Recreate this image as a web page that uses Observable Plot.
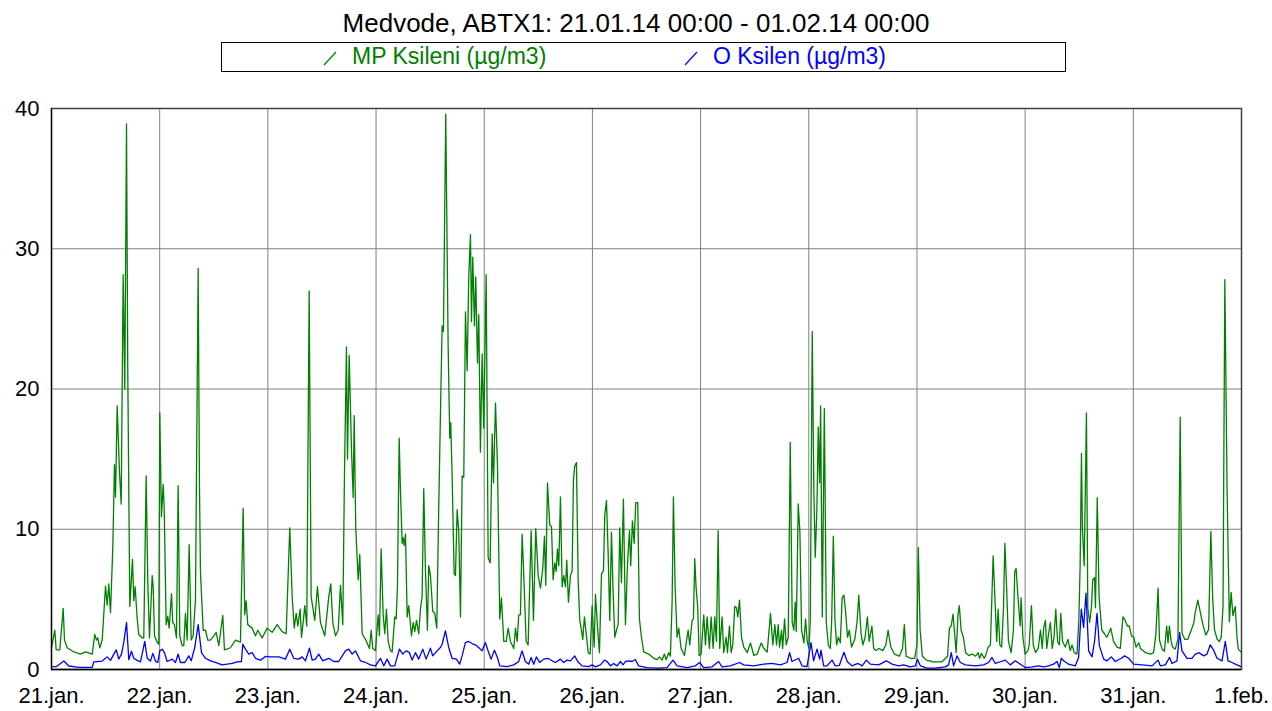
<!DOCTYPE html>
<html>
<head>
<meta charset="utf-8">
<script src="https://cdn.jsdelivr.net/npm/d3@7"></script>
<script src="https://cdn.jsdelivr.net/npm/@observablehq/plot@0.6"></script>
<style>
  html, body { margin: 0; padding: 0; background: #fff; }
  body { width: 1272px; height: 711px; overflow: hidden; font-family: "Liberation Sans", Arial, sans-serif; }
  #head { position: relative; height: 78px; }
  #title { position: absolute; top: 10px; left: 0; width: 1272px; text-align: center; font-size: 26px; line-height: 1; color: #000; white-space: nowrap; }
  #legend { position: absolute; left: 221px; top: 42px; width: 843px; height: 28px; border: 1px solid #000; background: #fff; }
  .item { position: absolute; top: 2px; font-size: 23px; line-height: 1; white-space: nowrap; }
  .sym { position: absolute; top: 8px; }
</style>
</head>
<body>
<div id="head">
  <div id="title"></div>
  <div id="legend"></div>
</div>
<div id="chart"></div>
<script>
// ---- data (hours since 21.01.14 00:00, µg/m3) ----
const titleText = "Medvode, ABTX1: 21.01.14 00:00 - 01.02.14 00:00";
const seriesNames = ["MP Ksileni (µg/m3)", "O Ksilen (µg/m3)"];
const seriesColors = ["#008000", "#0000ff"];
const dayLabels = ["21.jan.", "22.jan.", "23.jan.", "24.jan.", "25.jan.", "26.jan.", "27.jan.", "28.jan.", "29.jan.", "30.jan.", "31.jan.", "1.feb."];
const yTicks = [0, 10, 20, 30, 40];

const mpKsileni = [
[0,1.55],[0.73,2.8],[1.04,1.4],[1.84,1.4],[2.6,4.35],[2.88,2.1],[3.48,1.55],[4.95,1.25],[6.43,1.1],[7.54,1.25],[9.03,1.1],[9.6,2.5],[9.98,2.1],[10.27,2.25],[10.71,1.55],[11.25,2.1],[11.98,5.95],[12.35,4.6],[12.71,6.1],[13.09,4.05],[13.6,8.7],[13.97,14.6],[14.2,12.3],[14.57,18.8],[15.08,14.1],[15.46,11.8],[15.9,28.15],[16.26,20.0],[16.64,38.9],[16.92,21.3],[17.37,4.5],[17.97,7.85],[18.25,4.9],[18.56,5.9],[19.0,3.65],[19.36,2.5],[20.12,2.25],[20.47,2.25],[21.0,13.8],[21.36,6.2],[21.74,2.25],[22.34,6.7],[22.56,5.9],[22.85,2.4],[23.45,1.95],[23.8,1.8],
[24.02,18.3],[24.4,10.9],[24.78,13.2],[25.0,11.5],[25.44,3.2],[25.8,3.8],[26.1,2.95],[26.62,5.4],[26.9,3.35],[27.28,3.2],[27.73,2.25],[28.1,13.1],[28.46,2.4],[28.99,1.7],[29.35,1.7],[29.72,4.0],[30.1,2.1],[30.54,8.9],[30.99,2.1],[31.43,2.4],[31.94,5.0],[32.54,28.6],[32.83,12.9],[33.05,6.9],[33.65,2.8],[34.16,2.8],[34.67,2.1],[35.27,2.1],[36.0,2.4],[36.53,2.65],[37.11,1.7],[38.0,3.85],[38.37,1.4],[39.7,1.55],[40.81,2.1],[41.92,1.95],[42.52,11.5],[42.87,3.9],[43.18,4.9],[43.54,3.2],[44.51,2.95],[45.25,2.4],[45.76,2.8],[46.73,2.25],[47.84,2.95],
[48.95,2.65],[50.06,3.2],[51.17,2.7],[52.06,2.55],[52.86,10.1],[53.39,5.2],[53.84,2.95],[54.28,4.0],[54.64,3.1],[55.17,4.3],[55.46,2.3],[55.83,3.35],[56.19,4.55],[56.63,3.1],[57.16,27.0],[57.6,5.2],[58.4,3.5],[59.0,5.9],[59.67,3.35],[60.62,2.4],[61.51,5.2],[61.96,6.1],[62.4,3.35],[63.0,2.4],[63.6,2.8],[64.11,6.0],[64.62,3.2],[65.0,14.1],[65.44,23.0],[65.66,15.0],[66.04,22.4],[66.55,15.7],[66.93,12.25],[67.15,18.1],[67.5,10.05],[68.04,6.4],[68.39,8.2],[68.92,2.55],[69.66,2.15],[70.54,1.5],[70.92,2.8],[71.27,1.5],[71.87,1.35],
[72.47,3.9],[72.76,2.4],[73.13,8.6],[73.58,3.9],[73.93,2.55],[74.31,4.3],[74.69,2.0],[75.2,1.35],[75.57,1.25],[76.15,3.75],[76.46,3.6],[76.75,5.9],[77.13,16.5],[77.42,12.7],[77.79,9.0],[78.01,9.4],[78.24,8.85],[78.53,9.65],[78.91,3.75],[79.26,4.55],[79.86,2.4],[80.24,3.35],[80.59,2.7],[80.97,3.5],[81.47,2.55],[81.85,4.3],[82.22,5.2],[82.58,12.9],[82.96,7.1],[83.4,2.8],[83.69,7.4],[84.07,6.7],[84.58,4.15],[85.02,4.0],[85.47,2.95],[85.9,11.4],[86.28,18.1],[86.66,24.5],[86.95,24.1],[87.46,39.6],[87.99,23.2],[88.35,16.5],[88.57,17.6],[88.88,13.8],[89.33,6.8],[89.62,6.7],[89.99,11.4],[90.35,9.8],[90.73,3.75],[91.1,13.8],[91.46,13.7],[91.84,25.5],[92.21,21.3],[92.57,28.0],[92.95,31.0],[93.17,24.8],[93.46,29.4],[93.83,24.5],[94.12,28.0],[94.5,21.85],[94.79,25.3],[95.16,15.5],[95.54,22.5],[95.9,17.2],
[96.43,28.15],[96.87,8.0],[97.32,7.6],[97.76,16.8],[98.05,13.3],[98.5,19.0],[98.94,14.5],[99.45,3.6],[99.82,5.1],[100.34,2.0],[100.87,2.0],[101.31,2.95],[101.82,2.0],[102.56,1.5],[102.93,2.95],[103.31,2.0],[103.66,3.9],[104.03,3.9],[104.41,9.65],[104.76,6.8],[105.3,2.0],[105.74,1.75],[106.41,9.9],[106.92,3.5],[107.43,10.05],[107.97,6.7],[108.48,5.8],[108.99,7.2],[109.36,9.5],[109.65,6.0],[110.03,13.3],[110.54,10.3],[110.92,10.2],[111.29,6.4],[111.65,7.6],[111.96,7.0],[112.25,8.6],[112.54,7.4],[112.91,12.3],[113.29,5.9],[113.64,6.7],[114.02,5.9],[114.31,7.8],[114.68,4.8],[115.13,6.7],[115.5,7.0],[115.79,13.5],[116.08,14.5],[116.46,14.75],[116.84,6.4],[117.19,3.5],[117.57,2.8],[117.86,2.15],[118.23,3.75],[118.68,2.4],[119.06,1.2],[119.5,1.1],[119.94,4.55],
[120.39,1.6],[120.68,5.35],[121.12,3.1],[121.56,1.2],[122.01,6.8],[122.45,7.05],[122.74,11.0],[123.12,12.05],[123.5,8.2],[123.85,3.5],[124.23,9.8],[124.6,5.5],[124.96,2.3],[125.33,2.8],[125.71,3.2],[126.06,10.1],[126.44,6.2],[126.88,12.15],[127.33,3.2],[127.77,7.4],[128.22,9.9],[128.5,7.4],[128.88,10.6],[129.26,9.0],[129.61,11.9],[130.06,11.9],[130.43,3.6],[130.88,2.3],[131.38,1.25],[132.49,1.1],[133.6,0.8],[134.35,0.7],[134.86,0.9],[135.46,0.67],[135.97,1.1],[136.35,0.7],[136.93,1.2],[137.3,0.95],[137.68,4.8],[137.97,12.3],[138.35,5.9],[138.79,2.3],[139.15,2.95],[139.68,1.5],[140.42,1.0],[140.86,2.0],[141.24,2.8],[141.59,1.75],[142.12,3.5],[142.41,3.6],[142.7,7.9],[143.01,5.8],[143.37,4.4],[143.68,1.0],
[144.12,1.1],[144.7,3.9],[145.08,1.75],[145.45,3.75],[145.96,1.5],[146.34,3.75],[146.78,1.5],[147.14,3.75],[147.52,2.0],[147.89,9.9],[148.24,1.5],[148.78,3.75],[149.13,1.2],[149.67,2.3],[149.96,1.2],[150.4,3.1],[150.78,1.2],[151.14,1.75],[151.58,4.5],[151.96,4.4],[152.25,3.75],[152.63,4.95],[153.07,2.3],[153.58,1.6],[154.34,1.2],[155.07,1.9],[155.81,1.0],[156.56,1.1],[157.45,1.9],[158.03,1.5],[158.78,1.25],[159.51,4.0],[160.02,1.75],[160.47,3.2],[160.85,1.75],[161.22,3.2],[161.51,1.6],[161.96,2.8],[162.2,1.5],[162.63,3.6],[163.0,1.75],[163.45,2.3],[163.89,16.2],[164.33,3.35],[164.69,2.8],[165.0,4.8],[165.22,2.7],[165.66,11.8],[166.03,9.8],[166.4,2.8],[166.91,1.9],[167.29,3.6],[167.66,2.0],
[168.02,1.5],[168.33,3.35],[168.77,24.1],[169.13,12.7],[169.44,8.0],[169.8,11.4],[170.11,17.3],[170.4,13.3],[170.63,18.8],[171.0,3.75],[171.45,18.6],[171.89,3.35],[172.34,1.75],[172.78,1.5],[173.07,3.35],[173.45,9.5],[173.8,3.6],[174.18,1.75],[174.56,2.3],[175.0,1.9],[175.4,5.1],[175.8,5.3],[176.2,4.0],[176.6,2.3],[177.0,2.8],[177.5,1.6],[178.2,2.15],[178.7,3.35],[179.1,5.3],[179.6,2.55],[180.0,1.75],[180.5,2.3],[181.0,3.75],[181.4,2.0],[182.0,3.1],[182.4,1.5],[182.9,1.35],[183.6,1.5],[184.4,1.35],[185.1,1.75],[185.6,2.8],[186.2,1.6],[187.0,1.1],[188.1,0.95],[188.8,1.5],[189.2,3.2],[189.6,0.95],[190.5,0.8],[191.5,0.8],
[192.0,1.75],[192.3,8.7],[192.7,2.8],[193.2,0.95],[194.1,0.67],[195.6,0.54],[197.5,0.54],[198.8,0.95],[199.2,2.95],[199.6,3.1],[200.0,3.95],[200.3,2.8],[200.7,1.2],[201.1,3.9],[201.4,4.55],[201.8,2.8],[202.3,2.3],[202.8,1.2],[203.5,1.0],[204.3,1.1],[205.0,0.95],[205.6,1.2],[205.9,0.8],[206.3,1.15],[206.9,0.8],[207.2,0.95],[207.8,1.6],[208.3,1.75],[208.9,8.1],[209.4,4.3],[209.7,2.0],[210.0,4.3],[210.4,1.75],[210.8,1.6],[211.2,4.4],[211.5,9.0],[211.9,5.8],[212.3,2.0],[212.9,1.2],[213.4,2.8],[213.7,7.0],[214.0,7.2],[214.4,5.2],[214.9,3.1],[215.1,5.1],[215.5,2.3],
[216.0,1.1],[216.6,1.35],[216.9,1.75],[217.4,4.55],[217.8,1.75],[218.3,1.2],[218.9,1.5],[219.4,2.8],[219.8,1.5],[220.1,2.95],[220.5,3.5],[220.8,1.5],[221.2,2.55],[221.6,3.35],[222.0,1.5],[222.4,2.3],[222.8,4.3],[223.2,2.0],[223.6,1.75],[223.9,4.0],[224.3,2.0],[224.9,1.6],[225.5,2.15],[226.0,1.35],[226.4,1.75],[226.9,1.2],[227.5,1.1],[227.9,3.35],[228.2,7.4],[228.5,15.4],[228.7,10.05],[229.1,7.4],[229.6,18.3],[229.9,4.4],[230.3,3.35],[230.7,4.4],[231.0,6.4],[231.4,6.55],[231.6,4.4],[232.0,12.25],[232.4,5.2],[233.0,2.8],[233.6,2.55],[234.1,2.3],[234.5,2.55],[235.0,2.95],[235.6,2.0],[236.4,1.6],[237.1,1.5],[237.7,3.75],[238.2,3.5],[238.7,3.1],[239.1,3.1],[239.6,2.4],
[240.1,2.3],[240.6,1.6],[241.2,1.9],[241.6,1.5],[242.7,1.2],[243.8,1.1],[244.5,1.2],[245.0,2.5],[245.5,5.8],[245.8,2.1],[246.4,1.45],[246.9,1.3],[247.4,3.1],[247.7,1.9],[248.0,3.1],[248.4,2.0],[248.7,1.6],[249.3,1.45],[249.9,2.15],[250.4,18.0],[250.8,2.6],[251.4,2.15],[252.1,2.15],[252.9,2.85],[253.4,3.3],[253.7,4.0],[254.3,4.95],[254.6,4.5],[255.1,3.7],[255.6,3.0],[256.1,2.45],[256.7,2.85],[257.2,9.85],[257.6,5.1],[258.0,2.85],[258.6,2.15],[259.1,2.0],[259.5,2.3],[259.9,4.5],[260.3,27.8],[260.8,12.9],[261.3,3.4],[261.7,5.5],[262.1,3.85],[262.6,4.5],[263.0,2.3],[263.3,1.45],[264.0,1.2]
];

const oKsilen = [
[0,0.2],[1.04,0.2],[2.73,0.6],[3.84,0.25],[6.06,0.15],[9.03,0.15],[9.38,0.55],[11.25,0.6],[12.35,0.9],[13.09,0.65],[14.35,1.4],[14.93,0.75],[15.53,1.1],[16.04,1.95],[16.64,3.35],[17.15,0.7],[17.74,1.3],[18.25,0.8],[19.0,0.65],[19.74,0.55],[20.69,2.0],[21.23,0.8],[21.96,0.6],[22.47,1.15],[23.07,0.6],[23.58,0.5],
[24.02,1.33],[24.56,1.45],[25.06,1.2],[25.66,0.57],[26.77,0.74],[27.5,0.5],[28.1,1.1],[28.61,0.5],[29.57,0.5],[30.45,0.97],[30.99,0.62],[31.78,1.57],[32.54,3.2],[33.27,1.2],[34.16,0.8],[35.27,0.62],[36.37,0.5],[37.86,0.33],[38.97,0.38],[40.08,0.43],[41.19,0.55],[42.14,0.57],[42.43,1.8],[43.03,1.45],[43.76,1.1],[44.51,1.2],[45.25,0.8],[46.36,0.67],[47.47,0.93],
[48.57,0.9],[50.42,0.9],[51.9,0.74],[52.86,1.45],[53.74,0.8],[54.85,0.74],[55.61,0.9],[56.34,0.62],[57.23,1.52],[57.83,0.67],[58.56,0.74],[59.29,1.1],[60.18,0.62],[61.51,0.8],[62.62,0.57],[63.72,0.57],[65.21,1.33],[65.94,1.45],[66.7,1.1],[67.43,1.33],[68.54,0.62],[69.65,0.5],[70.76,0.33],[71.87,0.26],
[72.98,0.8],[73.71,0.26],[74.46,0.74],[75.19,0.26],[76.15,0.26],[77.19,1.45],[77.92,1.1],[78.67,1.33],[79.41,1.2],[80.0,0.67],[80.74,1.2],[81.47,0.74],[82.36,1.45],[83.11,0.74],[84.06,1.52],[84.57,0.97],[85.55,1.33],[86.28,1.57],[86.66,1.8],[87.39,2.75],[88.12,1.57],[88.87,0.8],[89.83,0.74],[90.56,0.38],[91.09,0.97],[91.82,1.92],[92.56,2.0],[93.31,1.85],[94.04,1.76],[94.77,1.57],[95.53,1.33],
[96.26,1.92],[96.99,1.2],[97.53,0.74],[98.26,1.38],[98.99,0.8],[99.44,0.26],[101.08,0.21],[102.54,0.33],[103.65,0.57],[104.4,1.33],[105.13,0.57],[105.87,0.38],[106.4,0.86],[106.98,0.38],[107.57,0.9],[108.31,0.5],[109.19,0.74],[110.08,0.8],[111.06,0.62],[111.79,0.5],[112.9,0.74],[113.63,0.5],[114.38,0.67],[115.11,0.62],[116.07,0.97],[116.73,0.57],[117.71,0.26],[119.17,0.21],
[119.93,0.33],[120.66,0.19],[121.77,0.33],[122.66,0.67],[123.26,0.57],[123.99,0.26],[124.72,0.43],[125.48,0.26],[126.21,0.57],[126.81,0.33],[127.31,0.57],[128.05,0.62],[128.8,0.57],[129.53,0.71],[130.26,0.26],[132.13,0.14],[134.35,0.1],[136.56,0.14],[137.89,0.67],[138.78,0.26],[141.0,0.14],[142.84,0.26],[143.79,0.5],
[144.68,0.14],[146.54,0.19],[148.0,0.57],[148.76,0.19],[150.6,0.26],[152.67,0.5],[153.55,0.33],[155.77,0.26],[157.99,0.38],[159.85,0.43],[161.69,0.33],[163.18,0.5],[163.75,1.2],[164.28,0.57],[165.75,0.8],[166.5,0.26],[167.61,0.21],
[168.5,1.92],[169.07,0.62],[169.83,1.45],[170.41,0.74],[170.72,1.38],[171.3,0.26],[172.05,0.26],[173.16,0.67],[173.89,0.26],[174.8,0.3],[175.8,1.23],[176.55,0.55],[177.6,0.26],[178.93,0.43],[179.82,0.26],[180.78,0.67],[181.66,0.38],[183.5,0.33],[185.21,0.62],[186.48,0.38],[187.94,0.26],[189.05,0.33],[190.53,0.19],[191.64,0.26],
[192.08,0.74],[192.75,0.26],[194.23,0.1],[196.07,0.1],[198.29,0.19],[199.02,0.33],[199.62,1.2],[200.13,0.26],[200.89,0.97],[201.62,0.5],[202.73,0.33],[204.95,0.26],[206.79,0.33],[207.9,0.5],[208.65,0.86],[209.38,0.43],[210.71,0.57],[211.6,0.67],[212.71,0.33],[213.82,0.62],[214.93,0.38],
[216.04,0.14],[217.52,0.19],[218.99,0.26],[220.1,0.19],[221.2,0.26],[222.31,0.38],[223.07,0.57],[223.58,0.14],[224.02,0.8],[224.53,0.62],[225.64,0.38],[227.13,0.26],[227.86,0.86],[228.46,4.3],[228.97,3.0],[229.5,5.44],[230.09,1.33],[230.84,0.9],[231.41,2.04],[231.95,4.0],[232.46,1.7],[233.42,0.74],[234.17,0.62],[235.12,0.9],[236.01,0.57],[237.34,0.8],[238.07,0.97],[238.96,0.8],
[240.07,0.38],[241.93,0.33],[244.15,0.26],[245.48,0.67],[245.99,0.26],[247.1,0.33],[248.05,0.86],[248.58,0.43],[249.69,0.62],[250.27,2.64],[250.8,1.33],[251.91,0.8],[253.02,0.8],[253.75,1.1],[254.64,1.2],[255.6,0.97],[256.35,1.1],[257.08,1.76],[257.82,1.38],[258.57,0.8],[259.68,0.62],[260.41,2.0],[261.01,0.62],[261.9,0.5],[262.63,0.38],[264.0,0.19]
];

// ---- header: title + legend ----
document.getElementById("title").textContent = titleText;
const legend = document.getElementById("legend");
const legendSlots = [101, 462]; // left offsets inside legend box
seriesNames.forEach((name, i) => {
  const left = legendSlots[i];
  const sym = document.createElementNS("http://www.w3.org/2000/svg", "svg");
  sym.setAttribute("width", "14");
  sym.setAttribute("height", "15");
  sym.setAttribute("class", "sym");
  sym.style.left = left + "px";
  const ln = document.createElementNS("http://www.w3.org/2000/svg", "line");
  ln.setAttribute("x1", "1"); ln.setAttribute("y1", "14");
  ln.setAttribute("x2", "13"); ln.setAttribute("y2", "1");
  ln.setAttribute("stroke", seriesColors[i]);
  ln.setAttribute("stroke-width", "1.2");
  sym.appendChild(ln);
  legend.appendChild(sym);
  const t = document.createElement("span");
  t.className = "item";
  t.style.left = (left + 29) + "px";
  t.style.color = seriesColors[i];
  t.textContent = name;
  legend.appendChild(t);
});

// ---- chart ----
const dayTicks = dayLabels.map((_, i) => i * 24);
const chart = Plot.plot({
  width: 1272,
  height: 633,
  marginLeft: 51,
  marginRight: 31,
  marginTop: 30,
  marginBottom: 42,
  style: { fontFamily: "'Liberation Sans', Arial, sans-serif", fontSize: "22px", color: "#000", background: "#fff" },
  x: { type: "linear", domain: [0, 264], ticks: dayTicks, tickFormat: d => dayLabels[Math.round(d / 24)], tickSize: 0, tickPadding: 18, label: null },
  y: { type: "linear", domain: [0, 40], ticks: yTicks, tickSize: 0, tickPadding: 12, label: null },
  marks: [
    Plot.gridX(dayTicks, { stroke: "#808080", strokeOpacity: 1, strokeWidth: 1 }),
    Plot.gridY(yTicks.filter(v => v > 0 && v < 40), { stroke: "#808080", strokeOpacity: 1, strokeWidth: 1 }),
    Plot.line(mpKsileni, { x: d => d[0], y: d => d[1], stroke: seriesColors[0], strokeWidth: 1.3 }),
    Plot.line(oKsilen, { x: d => d[0], y: d => d[1], stroke: seriesColors[1], strokeWidth: 1.3 }),
    Plot.frame({ stroke: "#404040", strokeWidth: 1.5 }),
    Plot.ruleY([0], { stroke: "#000", strokeWidth: 1.5 }),
    Plot.ruleX([0], { stroke: "#000", strokeWidth: 1.2 })
  ]
});
document.getElementById("chart").appendChild(chart);
</script>
</body>
</html>
